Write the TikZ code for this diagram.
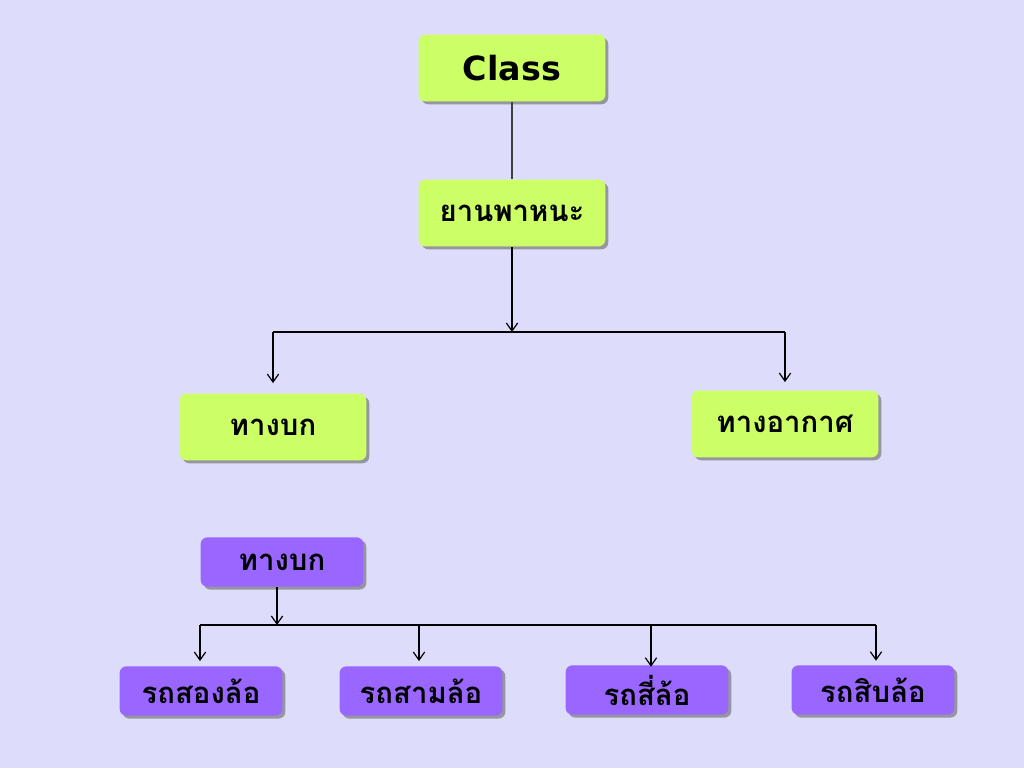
\documentclass[tikz,border=0pt]{standalone}
\usepackage{fontspec}
\setmainfont{DejaVu Sans}
\newfontfamily\thaifont[Script=Thai]{Loma}
\usetikzlibrary{arrows.meta,shadows}
\definecolor{bglilac}{RGB}{221,221,251}
\definecolor{limegreen}{RGB}{204,255,102}
\definecolor{violetbox}{RGB}{153,102,255}
\definecolor{shadowgray}{RGB}{150,150,160}

\begin{document}
\begin{tikzpicture}[x=0.75pt,y=-0.75pt,line width=0.9pt,
  >={Straight Barb[length=6pt,width=8.5pt]},
  greenbox/.style={rectangle,rounded corners=5pt,fill=limegreen,
    minimum width=140pt,minimum height=50pt,
    drop shadow={shadow xshift=2.2pt,shadow yshift=-2.2pt,opacity=1,fill=shadowgray},
    font=\thaifont\bfseries\fontsize{22}{26}\selectfont},
  violetbox/.style={rectangle,rounded corners=5pt,fill=violetbox,
    minimum width=122pt,minimum height=37pt,
    drop shadow={shadow xshift=2.2pt,shadow yshift=-2.2pt,opacity=1,fill=shadowgray},
    font=\thaifont\bfseries\fontsize{22}{26}\selectfont}]
  \useasboundingbox[fill=bglilac] (0,0) rectangle (1024,768);

  \node[greenbox,font=\bfseries\fontsize{25}{30}\selectfont] (class)   at (512,68)  {Class};
  \node[greenbox]                                               (vehicle) at (512,213) {ยานพาหนะ};
  \node[greenbox]                                               (land)    at (273,427) {ทางบก};
  \node[greenbox]                                               (air)     at (785,424) {ทางอากาศ};

  \node[violetbox] (landsub) at (282,562) {ทางบก};
  \node[violetbox] (two)     at (201,691) {รถสองล้อ};
  \node[violetbox] (three)   at (421,691) {รถสามล้อ};
  \node[violetbox] (four)    at (647,690) {รถสี่ล้อ};
  \node[violetbox] (ten)     at (873,690) {รถสิบล้อ};

  \coordinate (split)  at (512,332);
  \coordinate (splitl) at (273,332);
  \coordinate (splitr) at (785,332);
  \coordinate (fork)   at (277,625);
  \coordinate (forka)  at (200,625);
  \coordinate (forkb)  at (419,625);
  \coordinate (forkc)  at (651,625);
  \coordinate (forkd)  at (876,625);

  \draw[black!75] (class) -- (vehicle);
  \draw[->] (vehicle) -- (split);
  \draw (splitl) -- (splitr);
  \draw[->,shorten >=7.5pt] (splitl) -- (land);
  \draw[->,shorten >=6pt]   (splitr) -- (air);

  \draw[->] (landsub.south -| fork) -- (fork);
  \draw (forka) -- (forkd);
  \draw[->,shorten >=3.5pt] (forka) -- (forka |- two.north);
  \draw[->,shorten >=3.5pt] (forkb) -- (forkb |- three.north);
  \draw[->,shorten >=-1.5pt] (forkc) -- (forkc |- four.north);
  \draw[->,shorten >=3pt]   (forkd) -- (forkd |- ten.north);
\end{tikzpicture}
\end{document}
